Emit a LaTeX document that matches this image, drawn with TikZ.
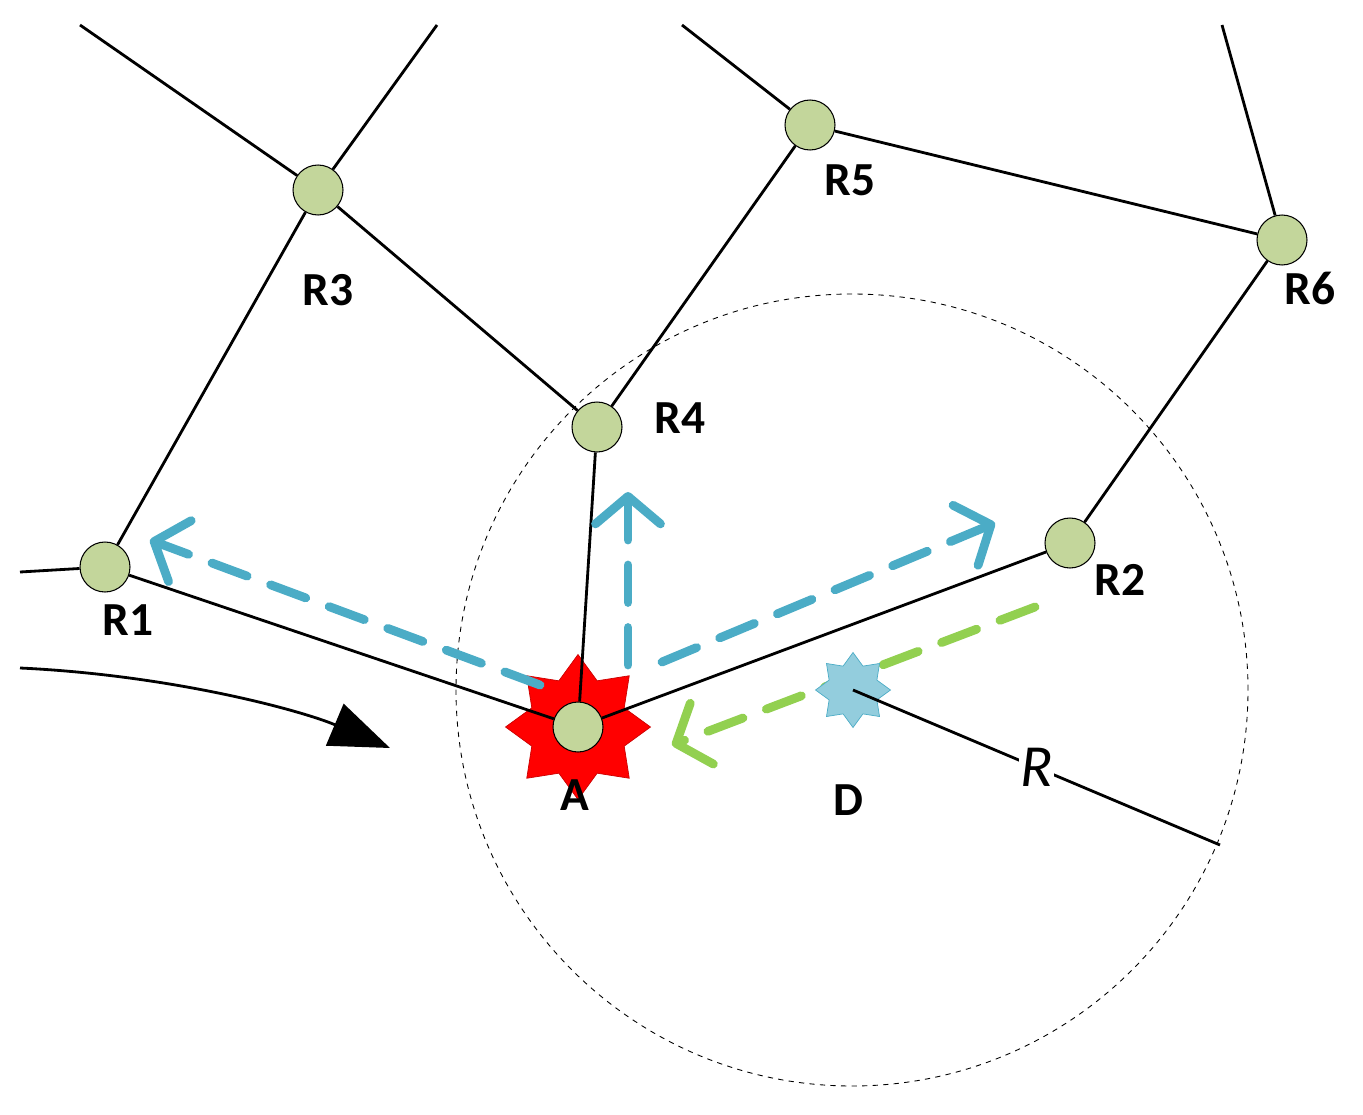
\documentclass[tikz,border=0pt]{standalone}
\usepackage{fontspec}
\setmainfont{Carlito}
\usetikzlibrary{shapes.geometric,arrows.meta}
\definecolor{ng}{HTML}{C3D69B}
\definecolor{bl}{HTML}{4BACC6}
\definecolor{gr}{HTML}{92D050}
\begin{document}
\begin{tikzpicture}[x=0.02cm,y=-0.02cm,
 rn/.style={circle,draw=black,line width=0.6pt,fill=ng,minimum size=1cm,inner sep=0},
 lb/.style={font=\fontsize{27}{30}\selectfont\bfseries},
 ed/.style={line width=1.6pt},
 da/.style={line width=5pt,line cap=round,dash pattern=on 0.75cm off 0.5cm,-{Straight Barb[length=0.55cm,width=1.3cm,line width=5pt,round]}}]
\useasboundingbox (0,0) rectangle (1363,1115);
\draw[dashed,line width=0.5pt] (852,690) circle (396*0.02cm);
\coordinate (c1) at (80,25); \coordinate (c2) at (437,25);
\coordinate (c3) at (682,25); \coordinate (c4) at (1222,25);
\coordinate (c5) at (20,572); \coordinate (re) at (1220,845);
\node[star,star points=8,star point ratio=1.45,minimum size=2.9cm,fill=red,draw=red!80!black,inner sep=0] (As) at (578,727) {};
\node[rn] (R1) at (105,567) {};
\node[rn] (R3) at (318,190) {};
\node[rn] (R4) at (597,427) {};
\node[rn] (R5) at (810,125) {};
\node[rn] (R6) at (1282,240) {};
\node[rn] (R2) at (1070,543) {};
\node[rn] (A) at (578,727) {};
\draw[ed] (R1)--(R3) (R3)--(c1) (R3)--(c2) (R3)--(R4) (R4)--(R5) (R5)--(c3) (R5)--(R6) (R6)--(c4) (R6)--(R2) (R2)--(A) (A)--(R1) (A)--(R4) (R1)--(c5);
\coordinate (k0) at (20,668); \coordinate (k1) at (390,748);
\draw[ed,-{Triangle[length=1.2cm,width=0.9cm]}] (k0) .. controls (170,675) and (300,710) .. (k1);
\coordinate (a0) at (540,685); \coordinate (a1) at (150,540);
\coordinate (b0) at (628,665); \coordinate (b1) at (628,492);
\coordinate (d0) at (662,662); \coordinate (d1) at (995,523);
\coordinate (g0) at (1035,607); \coordinate (g1) at (672,745);
\draw[da,bl] (a0)--(a1);
\draw[da,bl] (b0)--(b1);
\draw[da,bl] (d0)--(d1);
\draw[da,gr] (g0)--(g1);
\node[star,star points=8,star point ratio=1.45,minimum size=1.5cm,fill=bl!60,draw=bl,inner sep=0] (D) at (853,690) {};
\draw[ed] (D.center)--(re) node[pos=0.5,fill=white,inner sep=1pt,font=\fontsize{34}{36}\selectfont\itshape] {R};
\node[lb] (l1) at (128,620) {R1};
\node[lb] (l3) at (328,290) {R3};
\node[lb] (l4) at (680,418) {R4};
\node[lb] (l5) at (850,180) {R5};
\node[lb] (l6) at (1310,288) {R6};
\node[lb] (l2) at (1120,580) {R2};
\node[lb] (lA) at (575,795) {A};
\node[lb] (lD) at (848,800) {D};
\end{tikzpicture}
\end{document}
